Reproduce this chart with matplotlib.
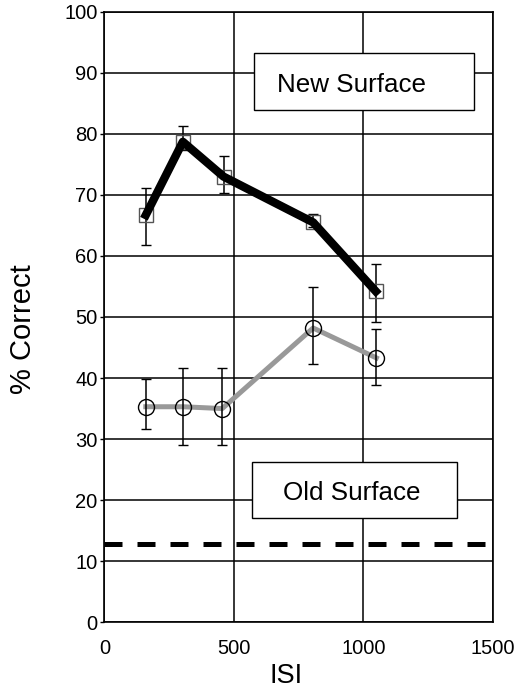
import matplotlib
matplotlib.use('Agg')
import matplotlib.pyplot as plt

plt.rcParams['font.family'] = ['Liberation Sans', 'DejaVu Sans']

# ISI values and % correct
isi_new = [160, 303, 460, 806, 1048]
new_surface = [66.7, 78.7, 73.0, 65.5, 54.2]
new_err_low = [61.8, 77.3, 70.3, 64.7, 49.2]
new_err_high = [71.2, 81.3, 76.4, 66.8, 58.6]

isi_old = [160, 303, 455, 806, 1050]
old_surface = [35.3, 35.3, 35.0, 48.2, 43.3]
old_err_low = [31.7, 29.1, 29.1, 42.3, 38.8]
old_err_high = [39.8, 41.6, 41.6, 54.9, 48.1]

chance_level = 12.8

x_ticks = [0, 500, 1000, 1500]
y_ticks = list(range(0, 101, 10))


def err(vals, lo, hi):
    return [[v - l for v, l in zip(vals, lo)], [h - v for v, h in zip(vals, hi)]]


fig = plt.figure(figsize=(5.14, 6.91), dpi=100)
ax = fig.add_axes([0.203, 0.0995, 0.756, 0.8835])

ax.set_xlim(0, 1500)
ax.set_ylim(0, 100)
ax.set_xticks(x_ticks)
ax.set_yticks(y_ticks)
ax.grid(True, color='black', linewidth=1.1)
ax.set_axisbelow(True)
for s in ax.spines.values():
    s.set_linewidth(1.2)
ax.tick_params(axis='both', labelsize=14.5, length=3, width=1, colors='black')
ax.tick_params(axis='y', pad=2)
ax.tick_params(axis='x', length=0, pad=12)

ax.axhline(chance_level, color='black', linewidth=3.6, dashes=(3.6, 3.0), zorder=2)

# old surface
ax.plot(isi_old, old_surface, color='#999999', linewidth=3.6, zorder=3)
ax.errorbar(isi_old, old_surface, yerr=err(old_surface, old_err_low, old_err_high),
            fmt='o', markersize=11.5, markerfacecolor='none', markeredgecolor='black',
            markeredgewidth=1.0, ecolor='black', elinewidth=1.1, capsize=3.5,
            capthick=1.1, zorder=4)

# new surface
ax.errorbar(isi_new, new_surface, yerr=err(new_surface, new_err_low, new_err_high),
            fmt='s', markersize=10, markerfacecolor='none', markeredgecolor='#555555',
            markeredgewidth=1.0, ecolor='black', elinewidth=1.1, capsize=3.5,
            capthick=1.1, zorder=4)
ax.plot(isi_new, new_surface, color='black', linewidth=6, zorder=5)

ax.add_patch(plt.Rectangle((577, 83.9), 851, 9.3, facecolor='white', edgecolor='black',
                           linewidth=1.0, zorder=5.5))
ax.text(956, 88.0, 'New Surface', fontsize=18.7, ha='center', va='center', zorder=6)
ax.add_patch(plt.Rectangle((569, 17.1), 792, 9.2, facecolor='white', edgecolor='black',
                           linewidth=1.0, zorder=5.5))
ax.text(956, 21.2, 'Old Surface', fontsize=18.7, ha='center', va='center', zorder=6)

fig.text(286.5 / 514, 1 - 663 / 691, 'ISI', fontsize=19.5, ha='center', va='top')
fig.text(23 / 514, 1 - 329 / 691, '% Correct', fontsize=21, rotation=90,
         ha='center', va='center')

fig.savefig('out.png', dpi=100)
